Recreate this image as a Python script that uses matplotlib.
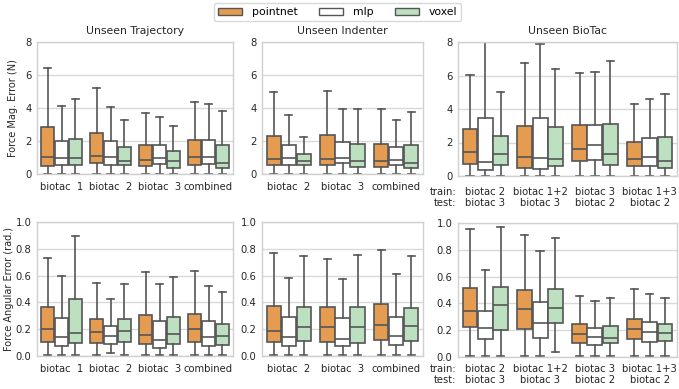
import matplotlib
matplotlib.use("Agg")
import matplotlib.pyplot as plt
from matplotlib.patches import Patch

plt.rcParams["font.family"] = "DejaVu Sans"

models = ["pointnet", "mlp", "voxel"]
colors = ["#e59c50", "#ffffff", "#bde0c1"]
edge = "#555555"

traj_labels = ["biotac  1", "biotac  2", "biotac  3", "combined"]
ind_labels = ["biotac  2", "biotac  3", "combined"]
bio_labels = ["biotac 2\nbiotac 3", "biotac 1+2\nbiotac 3", "biotac 3\nbiotac 2", "biotac 1+3\nbiotac 2"]

# each stat row: [whislo, q1, med, q3, whishi] per model per group
traj_force = [
    [[0.01, 0.48, 1.01, 2.86, 6.43], [0.01, 0.54, 0.95, 2.02, 4.11], [0.01, 0.54, 0.99, 2.14, 4.52]],
    [[0.01, 0.65, 1.09, 2.46, 5.20], [0.01, 0.54, 1.05, 1.98, 4.07], [0.01, 0.54, 0.81, 1.65, 3.29]],
    [[0.01, 0.48, 0.85, 1.75, 3.69], [0.01, 0.58, 0.97, 1.75, 3.43], [0.01, 0.34, 0.77, 1.41, 2.92]],
    [[0.01, 0.54, 1.01, 2.08, 4.35], [0.01, 0.60, 1.01, 2.08, 4.25], [0.01, 0.34, 0.65, 1.73, 3.81]],
]
ind_force = [
    [[0.01, 0.54, 0.88, 2.28, 4.95], [0.01, 0.54, 0.94, 1.76, 3.57], [0.01, 0.54, 0.78, 1.20, 2.22]],
    [[0.01, 0.54, 0.88, 2.34, 5.05], [0.01, 0.68, 0.98, 1.96, 3.91], [0.01, 0.44, 0.80, 1.84, 3.95]],
    [[0.01, 0.45, 0.80, 1.81, 3.96], [0.01, 0.56, 0.82, 1.63, 3.28], [0.01, 0.36, 0.64, 1.75, 3.78]],
]
bio_force = [
    [[0.01, 0.70, 1.41, 2.83, 6.01], [0.01, 0.34, 0.84, 3.44, 8.20], [0.01, 0.66, 1.29, 2.39, 5.00]],
    [[0.01, 0.50, 1.15, 3.00, 6.75], [0.01, 0.40, 1.07, 3.44, 7.90], [0.01, 0.60, 1.00, 2.95, 6.41]],
    [[0.01, 0.90, 1.59, 3.06, 6.15], [0.01, 0.98, 1.85, 3.06, 6.21], [0.01, 0.66, 1.33, 3.12, 6.85]],
    [[0.01, 0.60, 1.01, 2.05, 4.30], [0.01, 0.60, 1.11, 2.27, 4.62], [0.01, 0.50, 0.92, 2.33, 4.88]],
]

traj_ang = [
    [[0.01, 0.108, 0.204, 0.364, 0.734], [0.01, 0.075, 0.141, 0.286, 0.598], [0.01, 0.098, 0.173, 0.422, 0.892]],
    [[0.01, 0.095, 0.176, 0.276, 0.548], [0.02, 0.093, 0.151, 0.224, 0.422], [0.01, 0.103, 0.186, 0.276, 0.540]],
    [[0.01, 0.088, 0.158, 0.307, 0.626], [0.01, 0.063, 0.121, 0.261, 0.538], [0.01, 0.090, 0.161, 0.289, 0.590]],
    [[0.01, 0.108, 0.201, 0.317, 0.638], [0.01, 0.075, 0.143, 0.261, 0.525], [0.01, 0.085, 0.151, 0.241, 0.477]],
]
ind_ang = [
    [[0.01, 0.105, 0.188, 0.375, 0.770], [0.01, 0.078, 0.145, 0.288, 0.583], [0.01, 0.110, 0.213, 0.368, 0.743]],
    [[0.01, 0.105, 0.213, 0.363, 0.725], [0.01, 0.075, 0.130, 0.280, 0.578], [0.01, 0.100, 0.215, 0.363, 0.753]],
    [[0.01, 0.117, 0.231, 0.386, 0.789], [0.01, 0.082, 0.152, 0.294, 0.614], [0.01, 0.114, 0.224, 0.361, 0.744]],
]
bio_ang = [
    [[0.01, 0.225, 0.343, 0.516, 0.956], [0.01, 0.133, 0.215, 0.343, 0.649], [0.01, 0.200, 0.388, 0.519, 0.968]],
    [[0.01, 0.212, 0.360, 0.501, 0.911], [0.01, 0.143, 0.257, 0.407, 0.788], [0.04, 0.257, 0.368, 0.506, 0.886]],
    [[0.01, 0.104, 0.168, 0.244, 0.454], [0.01, 0.089, 0.148, 0.220, 0.420], [0.01, 0.101, 0.143, 0.235, 0.437]],
    [[0.01, 0.136, 0.207, 0.286, 0.511], [0.01, 0.114, 0.188, 0.262, 0.472], [0.01, 0.116, 0.180, 0.247, 0.444]],
]

FS = 7.2


def draw_boxes(ax, groups, labels, ylim, yticks):
    offsets = [-0.28, 0.0, 0.28]
    for g, group in enumerate(groups):
        for m, st in enumerate(group):
            stats = [dict(whislo=st[0], q1=st[1], med=st[2], q3=st[3], whishi=st[4], fliers=[])]
            ax.bxp(stats, positions=[g + offsets[m]], widths=0.27, patch_artist=True,
                   showfliers=False, manage_ticks=False,
                   boxprops=dict(facecolor=colors[m], edgecolor=edge, linewidth=1.2),
                   medianprops=dict(color=edge, linewidth=1.2),
                   whiskerprops=dict(color=edge, linewidth=1.2),
                   capprops=dict(color=edge, linewidth=1.2))
    ax.set_xlim(-0.5, len(groups) - 0.5)
    ax.set_ylim(*ylim)
    ax.set_yticks(yticks)
    ax.set_xticks(range(len(groups)))
    ax.set_xticklabels(labels)
    ax.grid(True, axis="y", color="#d9d9d9", linewidth=1.0)
    ax.set_axisbelow(True)
    ax.tick_params(length=0, labelsize=FS, colors="#262626", pad=4)
    ax.tick_params(axis="x", pad=6)
    for s in ax.spines.values():
        s.set_color("#d0d0d0")
        s.set_linewidth(1.0)


W, H = 679, 389
fig = plt.figure(figsize=(W / 100, H / 100), dpi=100)


def px_axes(x0, x1, y0, y1):
    return fig.add_axes([x0 / W, 1 - y1 / H, (x1 - x0) / W, (y1 - y0) / H])


force_ticks = [0, 2, 4, 6, 8]
ang_ticks = [0.0, 0.2, 0.4, 0.6, 0.8, 1.0]

a1 = px_axes(37, 233, 42, 174)
a2 = px_axes(262, 423, 42, 174)
a3 = px_axes(458, 677, 42, 176)
b1 = px_axes(37, 233, 222, 356)
b2 = px_axes(262, 423, 222, 356)
b3 = px_axes(458, 677, 223, 357)

draw_boxes(a1, traj_force, traj_labels, (0, 8), force_ticks)
draw_boxes(a2, ind_force, ind_labels, (0, 8), force_ticks)
draw_boxes(a3, bio_force, bio_labels, (0, 8), force_ticks)
draw_boxes(b1, traj_ang, traj_labels, (0, 1.0), ang_ticks)
draw_boxes(b2, ind_ang, ind_labels, (0, 1.0), ang_ticks)
draw_boxes(b3, bio_ang, bio_labels, (0, 1.0), ang_ticks)
for ax in (b1, b2, b3):
    ax.set_yticklabels(["0.0", "0.2", "0.4", "0.6", "0.8", "1.0"])

a1.set_title("Unseen Trajectory", fontsize=7.8, color="#262626", pad=6)
a2.set_title("Unseen Indenter", fontsize=7.8, color="#262626", pad=6)
a3.set_title("Unseen BioTac", fontsize=7.8, color="#262626", pad=6)
a1.set_ylabel("Force Mag. Error (N)", fontsize=7, color="#262626", labelpad=5)
b1.set_ylabel("Force Angular Error (rad.)", fontsize=7, color="#262626", labelpad=1)

for ax, pad in ((a3, 8), (b3, 5)):
    ax.tick_params(axis="x", pad=pad)
    ax.annotate("train:\ntest:", xy=(0, 0), xycoords="axes fraction",
                xytext=(-2, -pad * 100 / 72), textcoords="offset pixels",
                ha="right", va="top", multialignment="right",
                fontsize=FS, color="#262626", linespacing=1.1)
    for lab in ax.get_xticklabels():
        lab.set_linespacing(1.1)

handles = [Patch(facecolor=c, edgecolor=edge, linewidth=1.0) for c in colors]
fig.legend(handles, models, loc="upper center", bbox_to_anchor=(0.497, 1.005), ncol=3,
           fontsize=7.8, frameon=True, edgecolor="#d0d0d0", handlelength=2.2,
           handleheight=0.7, columnspacing=2.0, borderpad=0.35, handletextpad=0.9)

fig.savefig("out.png", dpi=100)
